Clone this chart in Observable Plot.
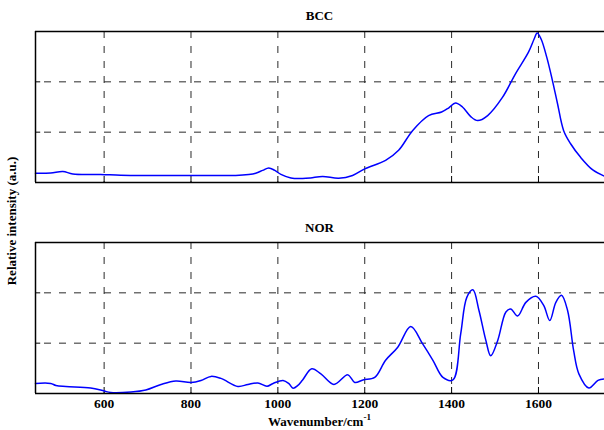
<!DOCTYPE html>
<html>
<head>
<meta charset="utf-8">
<script src="https://cdn.jsdelivr.net/npm/d3@7"></script>
<script src="https://cdn.jsdelivr.net/npm/@observablehq/plot@0.6"></script>
<style>
  html, body { margin: 0; padding: 0; background: #fff; }
  #wrap { position: relative; width: 604px; height: 430px; overflow: hidden;
          font-family: "Liberation Serif", "Times New Roman", serif; font-weight: bold; font-size: 13px; color: #000; }
  .abs { position: absolute; }
  .title { position: absolute; left: 35px; width: 569px; text-align: center; line-height: 1; }
  #xlabel { position: absolute; left: 35px; width: 569px; top: 415px; text-align: center; line-height: 1; }
  #ylabel { position: absolute; left: 11px; top: 221px; transform: translate(-50%, -50%) rotate(-90deg); white-space: nowrap; line-height: 1; }
  sup { font-size: 9px; vertical-align: 6px; line-height: 0; }
</style>
</head>
<body>
<div id="wrap">
  <div class="title" style="top:9px">BCC</div>
  <div class="title" style="top:221px">NOR</div>
  <div id="top" class="abs" style="left:0;top:0"></div>
  <div id="bot" class="abs" style="left:0;top:200px"></div>
  <div id="xlabel">Wavenumber/cm<sup>-1</sup></div>
  <div id="ylabel">Relative intensity (a.u.)</div>
</div>
<script>
// ---- data ----
const xDomain = [442, 1752];
const yDomain = [0, 3];
const xTicks = [600, 800, 1000, 1200, 1400, 1600];
const yGrid = [1, 2];

const bccWavenumber = [442, 477, 505, 528, 592, 638, 707, 777, 846, 903, 933, 949, 965, 979, 993, 1007, 1030, 1057, 1075, 1103, 1140, 1172, 1200, 1248, 1278, 1310, 1347, 1377, 1393, 1409, 1425, 1444, 1460, 1483, 1517, 1547, 1577, 1590, 1597, 1606, 1619, 1632, 1644, 1658, 1674, 1697, 1725, 1752];
const bccIntensity = [0.185, 0.19, 0.22, 0.17, 0.16, 0.145, 0.14, 0.14, 0.14, 0.14, 0.16, 0.185, 0.24, 0.29, 0.24, 0.16, 0.09, 0.08, 0.09, 0.12, 0.085, 0.14, 0.27, 0.44, 0.64, 1.03, 1.33, 1.40, 1.48, 1.58, 1.50, 1.31, 1.23, 1.33, 1.69, 2.16, 2.59, 2.85, 2.97, 2.85, 2.49, 2.03, 1.56, 1.03, 0.77, 0.50, 0.25, 0.125];

const norWavenumber = [442, 477, 489, 512, 569, 600, 615, 662, 696, 731, 765, 800, 823, 846, 869, 908, 931, 954, 975, 989, 1012, 1026, 1035, 1046, 1057, 1078, 1099, 1129, 1161, 1177, 1196, 1223, 1248, 1276, 1306, 1333, 1357, 1380, 1403, 1421, 1435, 1449, 1463, 1479, 1490, 1506, 1525, 1536, 1552, 1571, 1594, 1612, 1626, 1640, 1653, 1667, 1681, 1693, 1716, 1737, 1752];
const norIntensity = [0.20, 0.20, 0.16, 0.14, 0.11, 0.05, 0.02, 0.03, 0.07, 0.18, 0.25, 0.22, 0.26, 0.34, 0.30, 0.14, 0.18, 0.21, 0.145, 0.20, 0.26, 0.19, 0.105, 0.16, 0.27, 0.49, 0.39, 0.18, 0.37, 0.22, 0.27, 0.32, 0.66, 0.92, 1.33, 0.99, 0.66, 0.32, 0.27, 1.19, 1.91, 2.06, 1.65, 1.05, 0.75, 1.05, 1.62, 1.68, 1.54, 1.81, 1.93, 1.75, 1.45, 1.81, 1.95, 1.65, 0.85, 0.39, 0.11, 0.26, 0.29];

const bcc = bccWavenumber.map((w, i) => ({w, v: bccIntensity[i]}));
const nor = norWavenumber.map((w, i) => ({w, v: norIntensity[i]}));

function panel(data, height, marginTop, marginBottom, showTickLabels) {
  const plotH = height - marginTop - marginBottom;
  return Plot.plot({
    width: 604,
    height,
    marginLeft: 35,
    marginRight: 0,
    marginTop,
    marginBottom,
    style: {fontFamily: "'Liberation Serif', 'Times New Roman', serif", fontWeight: "bold", fontSize: "13.5px", color: "#000", background: "transparent", overflow: "visible"},
    x: {domain: xDomain, ticks: xTicks, tickSize: 0, tickPadding: 5, tickFormat: d => String(d), label: null, axis: showTickLabels ? "bottom" : null},
    y: {domain: yDomain, axis: null},
    marks: [
      Plot.ruleX(xTicks, {stroke: "#2a2a2a", strokeWidth: 1, strokeDasharray: "7,8"}),
      Plot.ruleY(yGrid, {stroke: "#2a2a2a", strokeWidth: 1, strokeDasharray: "7,8", strokeDashoffset: -9}),
      Plot.ruleX(xTicks, {stroke: "#000", strokeWidth: 1, insetTop: plotH - 6}),
      Plot.ruleY(yGrid, {x1: xDomain[0], x2: xDomain[0] + 12, stroke: "#000", strokeWidth: 1}),
      Plot.line(data, {x: "w", y: "v", stroke: "#0000ff", strokeWidth: 1.5, curve: "catmull-rom"}),
      Plot.ruleY(yDomain, {stroke: "#000", strokeWidth: 1.5}),
      Plot.ruleX([xDomain[0]], {stroke: "#000", strokeWidth: 1.5})
    ]
  });
}

document.getElementById("top").appendChild(panel(bcc, 200, 31, 18, false));
document.getElementById("bot").appendChild(panel(nor, 230, 42, 37, true));
</script>
</body>
</html>
